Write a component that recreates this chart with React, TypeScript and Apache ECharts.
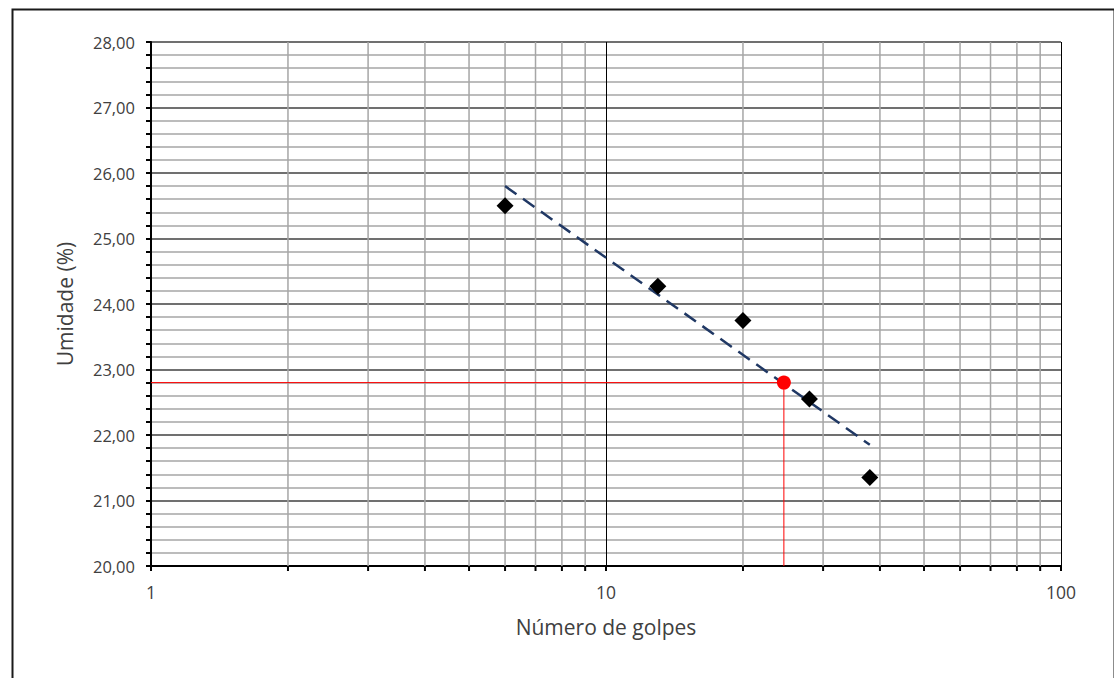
import React, { useEffect, useRef } from "react";
import * as echarts from "echarts";

// Data
const golpes = [6, 13, 20, 28, 38];
const umidade = [25.5, 24.27, 23.75, 22.55, 21.35];
const trendX = [6, 38];
const trendY = [25.8, 21.85];
const refX = 24.6;
const refY = 22.8;
const minorX = [2, 3, 4, 5, 6, 7, 8, 9, 20, 30, 40, 50, 60, 70, 80, 90];
const X_MIN = 1;
const X_MAX = 100;
const Y_MIN = 20;
const Y_MAX = 28;

const FONT = "'Open Sans', 'Noto Sans', sans-serif";
const TXT = "#404040";

export default function App() {
  const ref = useRef<HTMLDivElement>(null);
  useEffect(() => {
    document.body.style.margin = "0";
    if (!ref.current) return;
    const chart = echarts.init(ref.current, undefined, { renderer: "svg" });
    const option: any = {
      animation: false,
      backgroundColor: "#ffffff",
      textStyle: { fontFamily: FONT },
      graphic: [
        {
          type: "rect",
          left: 10,
          top: 7,
          shape: { width: 1102, height: 700 },
          style: { fill: "none", stroke: "#1a1a1a", lineWidth: 2 },
          silent: true,
          z: -10,
        },
      ],
      grid: { left: 151, right: 53, top: 42, bottom: 112, containLabel: false },
      xAxis: {
        type: "log",
        logBase: 10,
        min: X_MIN,
        max: X_MAX,
        name: "Número de golpes",
        nameLocation: "middle",
        nameGap: 50,
        nameTextStyle: { fontFamily: FONT, fontSize: 21, color: TXT },
        axisLine: { show: true, onZero: false, lineStyle: { color: "#000", width: 2 } },
        axisTick: { show: true, length: 5, lineStyle: { color: "#000", width: 2 } },
        axisLabel: { fontFamily: FONT, fontSize: 17.5, color: TXT, margin: 17 },
        splitLine: { show: true, lineStyle: { color: "#000", width: 1 } },
        minorTick: { show: false },
        minorSplitLine: { show: false },
      },
      yAxis: {
        type: "value",
        min: Y_MIN,
        max: Y_MAX,
        interval: 1,
        name: "Umidade (%)",
        nameLocation: "middle",
        nameGap: 76,
        nameTextStyle: { fontFamily: FONT, fontSize: 21, color: TXT },
        axisLine: { show: true, onZero: false, lineStyle: { color: "#000", width: 2 } },
        axisTick: { show: true, length: 5, lineStyle: { color: "#000", width: 2 } },
        minorTick: { show: true, splitNumber: 5, length: 5, lineStyle: { color: "#000", width: 2 } },
        axisLabel: {
          fontFamily: FONT,
          fontSize: 16.5,
          color: TXT,
          margin: 16,
          formatter: (v: number) => v.toFixed(2).replace(".", ","),
        },
        splitLine: { show: true, lineStyle: { color: "#404040", width: 1.5 } },
        minorSplitLine: { show: true, lineStyle: { color: "#a6a6a6", width: 1.5 } },
      },
      series: [
        {
          type: "custom",
          silent: true,
          z: 1,
          clip: false,
          data: minorX.map((v) => [v, Y_MIN]),
          renderItem: (_p: any, api: any) => {
            const top = api.coord([api.value(0), Y_MAX]);
            const bot = api.coord([api.value(0), Y_MIN]);
            return {
              type: "group",
              children: [
                {
                  type: "line",
                  shape: { x1: top[0], y1: top[1], x2: bot[0], y2: bot[1] },
                  style: { stroke: "#a6a6a6", lineWidth: 1.5 },
                },
                {
                  type: "line",
                  shape: { x1: bot[0], y1: bot[1], x2: bot[0], y2: bot[1] + 5 },
                  style: { stroke: "#000", lineWidth: 2 },
                },
              ],
            };
          },
        },
        {
          type: "line",
          name: "ref",
          data: [
            [X_MIN, refY],
            [refX, refY],
            [refX, Y_MIN],
          ],
          symbol: "none",
          lineStyle: { color: "#ff0000", width: 1 },
          silent: true,
          z: 3,
        },
        {
          type: "line",
          name: "trend",
          data: trendX.map((x, i) => [x, trendY[i]]),
          symbol: "none",
          lineStyle: { color: "#203864", width: 2.5, type: [14, 8] },
          silent: true,
          z: 4,
        },
        {
          type: "scatter",
          name: "pontos",
          data: golpes.map((x, i) => [x, umidade[i]]),
          symbol: "diamond",
          symbolSize: 17,
          itemStyle: { color: "#000", opacity: 1 },
          z: 5,
        },
        {
          type: "scatter",
          name: "LL",
          data: [[refX, refY]],
          symbol: "circle",
          symbolSize: 14,
          itemStyle: { color: "#ff0000", opacity: 1 },
          z: 6,
        },
      ],
    };
    chart.setOption(option);
    return () => chart.dispose();
  }, []);
  return <div ref={ref} style={{ width: 1114, height: 678 }} />;
}
